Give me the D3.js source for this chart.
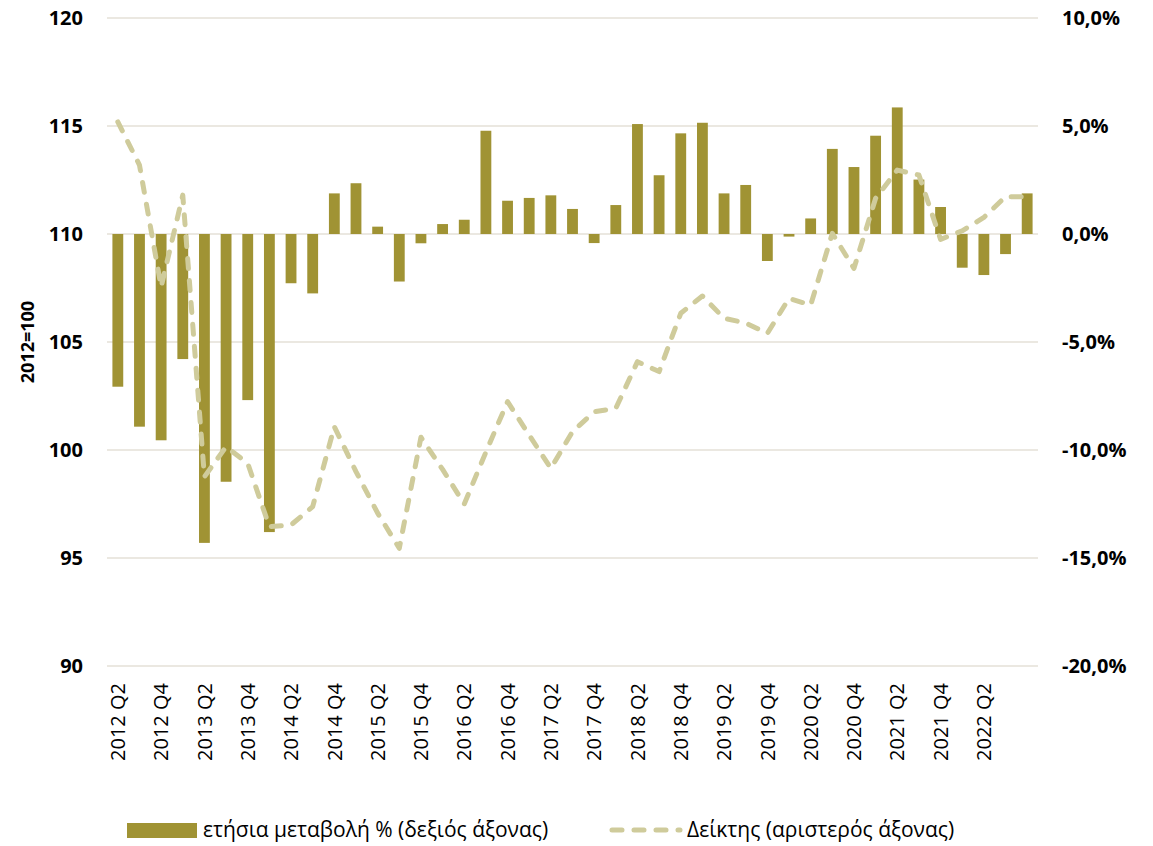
<!DOCTYPE html>
<html>
<head>
<meta charset="utf-8">
<script src="https://cdn.jsdelivr.net/npm/d3@7"></script>
<style>
  body { margin: 0; background: #fff; }
  svg { display: block; }
  text { fill: #000; }
</style>
</head>
<body>
<svg id="chart"></svg>
<script>
// quarters on the x axis
const quarters = [
  '2012 Q2','2012 Q3','2012 Q4','2013 Q1','2013 Q2','2013 Q3','2013 Q4','2014 Q1',
  '2014 Q2','2014 Q3','2014 Q4','2015 Q1','2015 Q2','2015 Q3','2015 Q4','2016 Q1',
  '2016 Q2','2016 Q3','2016 Q4','2017 Q1','2017 Q2','2017 Q3','2017 Q4','2018 Q1',
  '2018 Q2','2018 Q3','2018 Q4','2019 Q1','2019 Q2','2019 Q3','2019 Q4','2020 Q1',
  '2020 Q2','2020 Q3','2020 Q4','2021 Q1','2021 Q2','2021 Q3','2021 Q4','2022 Q1',
  '2022 Q2','2022 Q3','2022 Q4'
];
// labels shown under the axis
const xTickLabels = [
  '2012 Q2','2012 Q4','2013 Q2','2013 Q4','2014 Q2','2014 Q4','2015 Q2','2015 Q4',
  '2016 Q2','2016 Q4','2017 Q2','2017 Q4','2018 Q2','2018 Q4','2019 Q2','2019 Q4',
  '2020 Q2','2020 Q4','2021 Q2','2021 Q4','2022 Q2'
];
// annual change %, right axis (bars)
const yoyChange = [
  -7.07, -8.92, -9.55, -5.79, -14.3, -11.47, -7.69, -13.8, -2.28, -2.75,
  1.88, 2.35, 0.34, -2.2, -0.43, 0.46, 0.66, 4.78, 1.54, 1.67,
  1.79, 1.16, -0.42, 1.34, 5.09, 2.72, 4.66, 5.15, 1.88, 2.27,
  -1.25, -0.12, 0.72, 3.94, 3.1, 4.55, 5.86, 2.52, 1.25, -1.56,
  -1.9, -0.93, 1.88
];
// index 2012=100, left axis (dashed line)
const indexValues = [
  115.19, 113.19, 107.55, 111.8, 98.76, 100.15, 99.38, 96.45, 96.53, 97.38,
  101.08, 99.0, 97.08, 95.45, 100.59, 99.1, 97.5, 99.9, 102.24, 100.69,
  99.15, 100.85, 101.77, 101.93, 104.09, 103.63, 106.33, 107.13, 106.1, 105.88,
  105.4, 107.02, 106.71, 110.03, 108.41, 111.65, 112.96, 112.73, 109.75, 110.15,
  110.77, 111.73, 111.73
];
const leftTicks = [90, 95, 100, 105, 110, 115, 120];
const rightTicks = [-20, -15, -10, -5, 0, 5, 10];
const barLabel = 'ετήσια μεταβολή % (δεξιός άξονας)';
const lineLabel = 'Δείκτης (αριστερός άξονας)';
const yTitle = '2012=100';

const width = 1153, height = 846;
const margin = {top: 18, right: 115, bottom: 180, left: 107};
const barColor = '#a09334';
const lineColor = '#cfcb9b';
const gridColor = '#e4e1d7';

const svg = d3.select('#chart')
    .attr('width', width)
    .attr('height', height);

const x = d3.scaleBand()
    .domain(quarters)
    .range([margin.left, width - margin.right])
    .paddingInner(0.5)
    .paddingOuter(0.25);

const yLeft = d3.scaleLinear()
    .domain([90, 120])
    .range([height - margin.bottom, margin.top]);

const yRight = d3.scaleLinear()
    .domain([-20, 10])
    .range([height - margin.bottom, margin.top]);

// gridlines
svg.append('g')
  .selectAll('line')
  .data(leftTicks)
  .enter().append('line')
    .attr('x1', margin.left)
    .attr('x2', width - margin.right)
    .attr('y1', d => yLeft(d))
    .attr('y2', d => yLeft(d))
    .attr('stroke', gridColor)
    .attr('stroke-width', 1.5);

// bars
svg.append('g')
  .selectAll('rect')
  .data(yoyChange)
  .enter().append('rect')
    .attr('x', (d, i) => x(quarters[i]))
    .attr('width', x.bandwidth())
    .attr('y', d => yRight(Math.max(0, d)))
    .attr('height', d => Math.abs(yRight(d) - yRight(0)))
    .attr('fill', barColor);

// dashed index line
const line = d3.line()
    .x((d, i) => x(quarters[i]) + x.bandwidth() / 2)
    .y(d => yLeft(d));

svg.append('path')
    .datum(indexValues)
    .attr('d', line)
    .attr('fill', 'none')
    .attr('stroke', lineColor)
    .attr('stroke-width', 5)
    .attr('stroke-linecap', 'round')
    .attr('stroke-linejoin', 'round')
    .attr('stroke-dasharray', '10,12');

// left axis labels
svg.append('g')
  .selectAll('text')
  .data(leftTicks)
  .enter().append('text')
    .attr('x', 83)
    .attr('y', d => yLeft(d))
    .attr('dy', '0.35em')
    .attr('text-anchor', 'end')
    .attr('font-family', 'Open Sans')
    .attr('font-weight', 'bold')
    .attr('font-size', 20)
    .text(d => d);

// right axis labels
const pct = d3.format('.1f');
svg.append('g')
  .selectAll('text')
  .data(rightTicks)
  .enter().append('text')
    .attr('x', 1062)
    .attr('y', d => yRight(d))
    .attr('dy', '0.35em')
    .attr('text-anchor', 'start')
    .attr('font-family', 'Open Sans')
    .attr('font-weight', 'bold')
    .attr('font-size', 20)
    .text(d => pct(d).replace('.', ',').replace('−', '-') + '%');

// y title
svg.append('text')
    .attr('transform', 'translate(28,' + yLeft(105) + ') rotate(-90)')
    .attr('dy', '0.35em')
    .attr('text-anchor', 'middle')
    .attr('font-family', 'Open Sans')
    .attr('font-weight', 'bold')
    .attr('font-size', 18)
    .text(yTitle);

// x labels
svg.append('g')
  .selectAll('text')
  .data(xTickLabels)
  .enter().append('text')
    .attr('transform', d => 'translate(' + (x(d) + x.bandwidth() / 2) + ',683) rotate(-90)')
    .attr('dy', '0.36em')
    .attr('text-anchor', 'end')
    .attr('font-family', 'Open Sans')
    .attr('font-size', 20)
    .text(d => d);

// legend
const legend = svg.append('g');
legend.append('rect')
    .attr('x', 127)
    .attr('y', 823)
    .attr('width', 70)
    .attr('height', 15)
    .attr('fill', barColor);
legend.append('text')
    .attr('x', 203)
    .attr('y', 830)
    .attr('dy', '0.35em')
    .attr('font-family', 'Open Sans')
    .attr('font-size', 21)
    .text(barLabel);
legend.append('line')
    .attr('x1', 612)
    .attr('x2', 680)
    .attr('y1', 830)
    .attr('y2', 830)
    .attr('stroke', lineColor)
    .attr('stroke-width', 5)
    .attr('stroke-linecap', 'round')
    .attr('stroke-dasharray', '10,12');
legend.append('text')
    .attr('x', 687)
    .attr('y', 830)
    .attr('dy', '0.35em')
    .attr('font-family', 'Open Sans')
    .attr('font-size', 21)
    .text(lineLabel);
</script>
</body>
</html>
